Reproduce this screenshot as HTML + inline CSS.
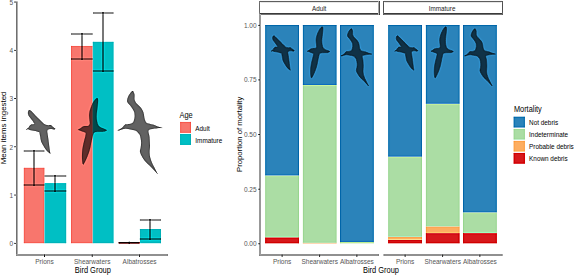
<!DOCTYPE html>
<html><head><meta charset="utf-8"><style>
html,body{margin:0;padding:0;background:#fff;width:575px;height:275px;overflow:hidden}
svg{display:block;font-family:"Liberation Sans", sans-serif}
</style></head><body>
<svg xmlns="http://www.w3.org/2000/svg" width="575" height="275" viewBox="0 0 575 275">
<defs><filter id="bl" color-interpolation-filters="sRGB" x="-2%" y="-2%" width="104%" height="104%"><feConvolveMatrix order="5" kernelMatrix="-0.00048 -0.00501 -0.01095 -0.00501 -0.00048 -0.00501 -0.05222 -0.11405 -0.05222 -0.00501 -0.01095 -0.11405 1.75088 -0.11405 -0.01095 -0.00501 -0.05222 -0.11405 -0.05222 -0.00501 -0.00048 -0.00501 -0.01095 -0.00501 -0.00048" divisor="1" edgeMode="duplicate" preserveAlpha="false"/></filter></defs>
<rect width="575" height="275" fill="#fff"/>
<g filter="url(#bl)">
<rect x="-5" y="-5" width="585" height="285" fill="#fff"/>
<rect x="23.70" y="167.69" width="20.80" height="75.61" fill="#F8766D"/>
<rect x="44.50" y="183.18" width="21.80" height="60.12" fill="#00BFC4"/>
<rect x="70.90" y="45.81" width="21.80" height="197.49" fill="#F8766D"/>
<rect x="92.70" y="41.71" width="20.90" height="201.59" fill="#00BFC4"/>
<rect x="118.70" y="242.34" width="21.10" height="0.96" fill="#F8766D"/>
<rect x="139.80" y="228.92" width="21.20" height="14.38" fill="#00BFC4"/>
<path d="M29.10,110.10 C29.52,109.93 30.00,110.18 30.60,110.60 C31.20,111.02 31.93,111.83 32.70,112.60 C33.47,113.37 34.37,114.35 35.20,115.20 C36.03,116.05 36.93,116.95 37.70,117.70 C38.47,118.45 39.12,119.02 39.80,119.70 C40.48,120.38 41.12,121.12 41.80,121.80 C42.48,122.48 43.22,123.30 43.90,123.80 C44.58,124.30 45.15,124.55 45.90,124.80 C46.65,125.05 47.60,125.25 48.40,125.30 C49.20,125.35 50.02,124.92 50.70,125.10 C51.38,125.28 51.87,125.93 52.50,126.40 C53.13,126.87 54.02,127.48 54.50,127.90 C54.98,128.32 55.40,128.90 55.40,128.90 C55.40,128.90 54.65,129.57 54.00,129.60 C53.35,129.63 52.43,129.10 51.50,129.10 C50.57,129.10 49.10,129.25 48.40,129.60 C47.70,129.95 47.40,130.30 47.30,131.20 C47.20,132.10 47.57,133.30 47.80,135.00 C48.03,136.70 48.40,139.13 48.70,141.40 C49.00,143.67 49.32,146.53 49.60,148.60 C49.88,150.67 50.40,153.80 50.40,153.80 C50.40,153.80 49.95,153.55 49.30,153.00 C48.65,152.45 47.47,151.68 46.50,150.50 C45.53,149.32 44.40,147.42 43.50,145.90 C42.60,144.38 41.65,142.92 41.10,141.40 C40.55,139.88 40.50,138.30 40.20,136.80 C39.90,135.30 39.62,133.20 39.30,132.40 C38.98,131.60 38.98,132.25 38.30,132.00 C37.62,131.75 36.23,131.17 35.20,130.90 C34.17,130.63 33.03,130.57 32.10,130.40 C31.17,130.23 30.27,130.08 29.60,129.90 C28.93,129.72 28.70,129.35 28.10,129.30 C27.50,129.25 26.00,129.60 26.00,129.60 C26.00,129.60 26.87,128.97 27.30,128.60 C27.73,128.23 28.30,127.77 28.60,127.40 C28.90,127.03 28.85,126.75 29.10,126.40 C29.35,126.05 29.68,125.65 30.10,125.30 C30.52,124.95 30.92,124.50 31.60,124.30 C32.28,124.10 33.85,124.35 34.20,124.10 C34.55,123.85 34.05,123.43 33.70,122.80 C33.35,122.17 32.70,121.15 32.10,120.30 C31.50,119.45 30.68,118.47 30.10,117.70 C29.52,116.93 28.97,116.38 28.60,115.70 C28.23,115.02 27.98,114.28 27.90,113.60 C27.82,112.92 27.90,112.18 28.10,111.60 C28.30,111.02 28.68,110.27 29.10,110.10Z" fill="#000" stroke="#000" stroke-width="0.30" stroke-linejoin="round" opacity="0.61"/>
<path d="M97.50,98.20 C97.92,98.45 98.05,99.32 98.10,100.40 C98.15,101.48 97.97,103.02 97.80,104.70 C97.63,106.38 97.30,108.57 97.10,110.50 C96.90,112.43 96.60,114.48 96.60,116.30 C96.60,118.12 96.78,119.87 97.10,121.40 C97.42,122.93 97.78,124.43 98.50,125.50 C99.22,126.57 100.40,127.23 101.40,127.80 C102.40,128.37 103.58,128.50 104.50,128.90 C105.42,129.30 106.90,130.20 106.90,130.20 C106.90,130.20 105.33,131.35 104.30,131.60 C103.27,131.85 101.78,131.67 100.70,131.70 C99.62,131.73 98.83,131.68 97.80,131.80 C96.77,131.92 95.27,131.97 94.50,132.40 C93.73,132.83 93.67,133.02 93.20,134.40 C92.73,135.78 92.22,138.35 91.70,140.70 C91.18,143.05 90.75,146.02 90.10,148.50 C89.45,150.98 88.58,153.52 87.80,155.60 C87.02,157.68 86.12,159.53 85.40,161.00 C84.68,162.47 83.50,164.40 83.50,164.40 C83.50,164.40 82.85,164.48 82.60,163.40 C82.35,162.32 82.05,160.12 82.00,157.90 C81.95,155.68 82.00,152.72 82.30,150.10 C82.60,147.48 83.28,144.55 83.80,142.20 C84.32,139.85 85.12,137.57 85.40,136.00 C85.68,134.43 86.02,133.57 85.50,132.80 C84.98,132.03 83.25,131.80 82.30,131.40 C81.35,131.00 80.55,130.67 79.80,130.40 C79.05,130.13 77.80,129.80 77.80,129.80 C77.80,129.80 79.62,128.72 80.40,128.20 C81.18,127.68 81.78,127.05 82.50,126.70 C83.22,126.35 83.72,126.25 84.70,126.10 C85.68,125.95 87.55,126.22 88.40,125.80 C89.25,125.38 89.63,124.68 89.80,123.60 C89.97,122.52 89.52,120.75 89.40,119.30 C89.28,117.85 89.03,116.37 89.10,114.90 C89.17,113.43 89.43,111.95 89.80,110.50 C90.17,109.05 90.70,107.65 91.30,106.20 C91.90,104.75 92.68,103.02 93.40,101.80 C94.12,100.58 94.92,99.50 95.60,98.90 C96.28,98.30 97.08,97.95 97.50,98.20Z" fill="#000" stroke="#000" stroke-width="0.30" stroke-linejoin="round" opacity="0.61"/>
<path d="M133.20,91.20 C133.20,91.20 134.25,92.93 134.50,94.40 C134.75,95.87 134.25,98.38 134.70,100.00 C135.15,101.62 136.27,102.92 137.20,104.10 C138.13,105.28 139.37,106.00 140.30,107.10 C141.23,108.20 142.20,109.50 142.80,110.70 C143.40,111.90 143.63,113.12 143.90,114.30 C144.17,115.48 144.15,116.70 144.40,117.80 C144.65,118.90 144.98,120.05 145.40,120.90 C145.82,121.75 146.05,122.40 146.90,122.90 C147.75,123.40 149.48,123.62 150.50,123.90 C151.52,124.18 151.88,124.22 153.00,124.60 C154.12,124.98 155.65,125.67 157.20,126.20 C158.75,126.73 162.30,127.80 162.30,127.80 C162.30,127.80 156.08,128.33 153.80,128.80 C151.52,129.27 149.32,129.28 148.60,130.60 C147.88,131.92 149.27,134.22 149.50,136.70 C149.73,139.18 149.98,142.88 150.00,145.50 C150.02,148.12 149.55,150.37 149.60,152.40 C149.65,154.43 149.88,155.95 150.30,157.70 C150.72,159.45 151.37,161.17 152.10,162.90 C152.83,164.63 153.80,166.28 154.70,168.10 C155.60,169.92 157.50,173.80 157.50,173.80 C157.50,173.80 155.13,171.28 153.80,169.90 C152.47,168.52 150.95,166.95 149.50,165.50 C148.05,164.05 146.42,162.80 145.10,161.20 C143.78,159.60 142.47,157.50 141.60,155.90 C140.73,154.30 140.05,153.05 139.90,151.60 C139.75,150.15 140.50,148.80 140.70,147.20 C140.90,145.60 141.23,143.95 141.10,142.00 C140.97,140.05 140.38,136.98 139.90,135.50 C139.42,134.02 138.70,133.78 138.20,133.10 C137.70,132.42 137.43,131.85 136.90,131.40 C136.37,130.95 136.08,130.72 135.00,130.40 C133.92,130.08 131.93,129.77 130.40,129.50 C128.87,129.23 127.22,128.80 125.80,128.80 C124.38,128.80 123.00,129.23 121.90,129.50 C120.80,129.77 119.92,130.27 119.20,130.40 C118.48,130.53 117.60,130.30 117.60,130.30 C117.60,130.30 119.68,129.32 120.50,128.80 C121.32,128.28 121.83,127.85 122.50,127.20 C123.17,126.55 123.95,125.40 124.50,124.90 C125.05,124.40 125.03,124.37 125.80,124.20 C126.57,124.03 128.12,124.07 129.10,123.90 C130.08,123.73 131.00,123.53 131.70,123.20 C132.40,122.87 132.90,122.52 133.30,121.90 C133.70,121.28 133.88,120.32 134.10,119.50 C134.32,118.68 134.52,117.75 134.60,117.00 C134.68,116.25 134.67,115.80 134.60,115.00 C134.53,114.20 134.52,113.17 134.20,112.20 C133.88,111.23 133.38,110.30 132.70,109.20 C132.02,108.10 130.95,106.72 130.10,105.60 C129.25,104.48 128.10,103.38 127.60,102.50 C127.10,101.62 126.97,101.38 127.10,100.30 C127.23,99.22 127.65,97.45 128.40,96.00 C129.15,94.55 130.80,92.40 131.60,91.60 C132.40,90.80 133.20,91.20 133.20,91.20Z" fill="#000" stroke="#000" stroke-width="0.30" stroke-linejoin="round" opacity="0.61"/>
<rect x="23.70" y="150" width="20.80" height="2" fill="#000" fill-opacity="0.36"/>
<rect x="23.70" y="184" width="20.80" height="2" fill="#000" fill-opacity="0.36"/>
<rect x="33" y="150" width="2" height="36" fill="#000" fill-opacity="0.42"/>
<rect x="44.50" y="175" width="21.80" height="2" fill="#000" fill-opacity="0.36"/>
<rect x="44.50" y="190" width="21.80" height="2" fill="#000" fill-opacity="0.36"/>
<rect x="54" y="175" width="2" height="17" fill="#000" fill-opacity="0.42"/>
<rect x="70.90" y="33" width="21.80" height="2" fill="#000" fill-opacity="0.36"/>
<rect x="70.90" y="58" width="21.80" height="2" fill="#000" fill-opacity="0.36"/>
<rect x="81" y="33" width="2" height="27" fill="#000" fill-opacity="0.42"/>
<rect x="92.90" y="12" width="20.70" height="2" fill="#000" fill-opacity="0.36"/>
<rect x="92.90" y="70" width="20.70" height="2" fill="#000" fill-opacity="0.36"/>
<rect x="102" y="12" width="2" height="60" fill="#000" fill-opacity="0.42"/>
<rect x="139.80" y="219" width="21.20" height="2" fill="#000" fill-opacity="0.36"/>
<rect x="139.80" y="238" width="21.20" height="2" fill="#000" fill-opacity="0.36"/>
<rect x="149" y="219" width="2" height="21" fill="#000" fill-opacity="0.42"/>
<rect x="118.6" y="241.9" width="21" height="1.7" fill="#4a0606"/><rect x="128.7" y="241.6" width="0.9" height="2.2" fill="#111"/>
<rect x="16" y="1.4" width="1" height="253.6" fill="#949494"/>
<rect x="17" y="1.4" width="1" height="253.6" fill="#b8b8b8"/>
<rect x="16" y="254" width="152" height="1" fill="#a8a8a8"/>
<rect x="16" y="255" width="152" height="1" fill="#a8a8a8"/>
<path d="M14.2,243.30H16" stroke="#4a4a4a" stroke-width="0.9"/>
<path d="M14.2,195.05H16" stroke="#4a4a4a" stroke-width="0.9"/>
<path d="M14.2,146.80H16" stroke="#4a4a4a" stroke-width="0.9"/>
<path d="M14.2,98.55H16" stroke="#4a4a4a" stroke-width="0.9"/>
<path d="M14.2,50.30H16" stroke="#4a4a4a" stroke-width="0.9"/>
<path d="M14.2,2.05H16" stroke="#4a4a4a" stroke-width="0.9"/>
<path d="M44.50,254.5V257" stroke="#4a4a4a" stroke-width="0.9"/>
<path d="M92.20,254.5V257" stroke="#4a4a4a" stroke-width="0.9"/>
<path d="M139.60,254.5V257" stroke="#4a4a4a" stroke-width="0.9"/>
<rect x="180.1" y="121.8" width="10.9" height="11.1" fill="#F8766D"/>
<rect x="180.1" y="133.8" width="10.9" height="11.1" fill="#00BFC4"/>
<rect x="265.15" y="237.30" width="33.90" height="6.10" fill="#D7191C"/>
<rect x="265.15" y="237.30" width="33.90" height="0.00" fill="#FDAE61"/>
<rect x="265.15" y="175.49" width="33.90" height="61.81" fill="#ABDDA4"/>
<rect x="265.15" y="24.90" width="33.90" height="150.59" fill="#2B83BA"/>
<rect x="302.75" y="242.74" width="33.90" height="0.66" fill="#FDAE61"/>
<rect x="302.75" y="84.99" width="33.90" height="157.76" fill="#ABDDA4"/>
<rect x="302.75" y="24.90" width="33.90" height="60.09" fill="#2B83BA"/>
<rect x="339.95" y="241.98" width="33.90" height="1.42" fill="#ABDDA4"/>
<rect x="339.95" y="24.90" width="33.90" height="217.08" fill="#2B83BA"/>
<rect x="388.15" y="239.79" width="33.90" height="3.61" fill="#D7191C"/>
<rect x="388.15" y="236.80" width="33.90" height="2.99" fill="#FDAE61"/>
<rect x="388.15" y="156.70" width="33.90" height="80.10" fill="#ABDDA4"/>
<rect x="388.15" y="24.90" width="33.90" height="131.80" fill="#2B83BA"/>
<rect x="425.75" y="233.11" width="33.90" height="10.29" fill="#D7191C"/>
<rect x="425.75" y="226.40" width="33.90" height="6.71" fill="#FDAE61"/>
<rect x="425.75" y="103.80" width="33.90" height="122.60" fill="#ABDDA4"/>
<rect x="425.75" y="24.90" width="33.90" height="78.90" fill="#2B83BA"/>
<rect x="462.95" y="233.11" width="33.90" height="10.29" fill="#D7191C"/>
<rect x="462.95" y="212.39" width="33.90" height="20.71" fill="#ABDDA4"/>
<rect x="462.95" y="24.90" width="33.90" height="187.49" fill="#2B83BA"/>
<path d="M29.10,110.10 C29.52,109.93 30.00,110.18 30.60,110.60 C31.20,111.02 31.93,111.83 32.70,112.60 C33.47,113.37 34.37,114.35 35.20,115.20 C36.03,116.05 36.93,116.95 37.70,117.70 C38.47,118.45 39.12,119.02 39.80,119.70 C40.48,120.38 41.12,121.12 41.80,121.80 C42.48,122.48 43.22,123.30 43.90,123.80 C44.58,124.30 45.15,124.55 45.90,124.80 C46.65,125.05 47.60,125.25 48.40,125.30 C49.20,125.35 50.02,124.92 50.70,125.10 C51.38,125.28 51.87,125.93 52.50,126.40 C53.13,126.87 54.02,127.48 54.50,127.90 C54.98,128.32 55.40,128.90 55.40,128.90 C55.40,128.90 54.65,129.57 54.00,129.60 C53.35,129.63 52.43,129.10 51.50,129.10 C50.57,129.10 49.10,129.25 48.40,129.60 C47.70,129.95 47.40,130.30 47.30,131.20 C47.20,132.10 47.57,133.30 47.80,135.00 C48.03,136.70 48.40,139.13 48.70,141.40 C49.00,143.67 49.32,146.53 49.60,148.60 C49.88,150.67 50.40,153.80 50.40,153.80 C50.40,153.80 49.95,153.55 49.30,153.00 C48.65,152.45 47.47,151.68 46.50,150.50 C45.53,149.32 44.40,147.42 43.50,145.90 C42.60,144.38 41.65,142.92 41.10,141.40 C40.55,139.88 40.50,138.30 40.20,136.80 C39.90,135.30 39.62,133.20 39.30,132.40 C38.98,131.60 38.98,132.25 38.30,132.00 C37.62,131.75 36.23,131.17 35.20,130.90 C34.17,130.63 33.03,130.57 32.10,130.40 C31.17,130.23 30.27,130.08 29.60,129.90 C28.93,129.72 28.70,129.35 28.10,129.30 C27.50,129.25 26.00,129.60 26.00,129.60 C26.00,129.60 26.87,128.97 27.30,128.60 C27.73,128.23 28.30,127.77 28.60,127.40 C28.90,127.03 28.85,126.75 29.10,126.40 C29.35,126.05 29.68,125.65 30.10,125.30 C30.52,124.95 30.92,124.50 31.60,124.30 C32.28,124.10 33.85,124.35 34.20,124.10 C34.55,123.85 34.05,123.43 33.70,122.80 C33.35,122.17 32.70,121.15 32.10,120.30 C31.50,119.45 30.68,118.47 30.10,117.70 C29.52,116.93 28.97,116.38 28.60,115.70 C28.23,115.02 27.98,114.28 27.90,113.60 C27.82,112.92 27.90,112.18 28.10,111.60 C28.30,111.02 28.68,110.27 29.10,110.10Z" fill="#000" stroke="#000" stroke-width="0.762" stroke-linejoin="round" opacity="0.61" transform="translate(250.64,-50.80) scale(0.787)"/>
<path d="M97.50,98.20 C97.92,98.45 98.05,99.32 98.10,100.40 C98.15,101.48 97.97,103.02 97.80,104.70 C97.63,106.38 97.30,108.57 97.10,110.50 C96.90,112.43 96.60,114.48 96.60,116.30 C96.60,118.12 96.78,119.87 97.10,121.40 C97.42,122.93 97.78,124.43 98.50,125.50 C99.22,126.57 100.40,127.23 101.40,127.80 C102.40,128.37 103.58,128.50 104.50,128.90 C105.42,129.30 106.90,130.20 106.90,130.20 C106.90,130.20 105.33,131.35 104.30,131.60 C103.27,131.85 101.78,131.67 100.70,131.70 C99.62,131.73 98.83,131.68 97.80,131.80 C96.77,131.92 95.27,131.97 94.50,132.40 C93.73,132.83 93.67,133.02 93.20,134.40 C92.73,135.78 92.22,138.35 91.70,140.70 C91.18,143.05 90.75,146.02 90.10,148.50 C89.45,150.98 88.58,153.52 87.80,155.60 C87.02,157.68 86.12,159.53 85.40,161.00 C84.68,162.47 83.50,164.40 83.50,164.40 C83.50,164.40 82.85,164.48 82.60,163.40 C82.35,162.32 82.05,160.12 82.00,157.90 C81.95,155.68 82.00,152.72 82.30,150.10 C82.60,147.48 83.28,144.55 83.80,142.20 C84.32,139.85 85.12,137.57 85.40,136.00 C85.68,134.43 86.02,133.57 85.50,132.80 C84.98,132.03 83.25,131.80 82.30,131.40 C81.35,131.00 80.55,130.67 79.80,130.40 C79.05,130.13 77.80,129.80 77.80,129.80 C77.80,129.80 79.62,128.72 80.40,128.20 C81.18,127.68 81.78,127.05 82.50,126.70 C83.22,126.35 83.72,126.25 84.70,126.10 C85.68,125.95 87.55,126.22 88.40,125.80 C89.25,125.38 89.63,124.68 89.80,123.60 C89.97,122.52 89.52,120.75 89.40,119.30 C89.28,117.85 89.03,116.37 89.10,114.90 C89.17,113.43 89.43,111.95 89.80,110.50 C90.17,109.05 90.70,107.65 91.30,106.20 C91.90,104.75 92.68,103.02 93.40,101.80 C94.12,100.58 94.92,99.50 95.60,98.90 C96.28,98.30 97.08,97.95 97.50,98.20Z" fill="#000" stroke="#000" stroke-width="0.779" stroke-linejoin="round" opacity="0.61" transform="translate(247.44,-48.70) scale(0.770)"/>
<path d="M133.20,91.20 C133.20,91.20 134.25,92.93 134.50,94.40 C134.75,95.87 134.25,98.38 134.70,100.00 C135.15,101.62 136.27,102.92 137.20,104.10 C138.13,105.28 139.37,106.00 140.30,107.10 C141.23,108.20 142.20,109.50 142.80,110.70 C143.40,111.90 143.63,113.12 143.90,114.30 C144.17,115.48 144.15,116.70 144.40,117.80 C144.65,118.90 144.98,120.05 145.40,120.90 C145.82,121.75 146.05,122.40 146.90,122.90 C147.75,123.40 149.48,123.62 150.50,123.90 C151.52,124.18 151.88,124.22 153.00,124.60 C154.12,124.98 155.65,125.67 157.20,126.20 C158.75,126.73 162.30,127.80 162.30,127.80 C162.30,127.80 156.08,128.33 153.80,128.80 C151.52,129.27 149.32,129.28 148.60,130.60 C147.88,131.92 149.27,134.22 149.50,136.70 C149.73,139.18 149.98,142.88 150.00,145.50 C150.02,148.12 149.55,150.37 149.60,152.40 C149.65,154.43 149.88,155.95 150.30,157.70 C150.72,159.45 151.37,161.17 152.10,162.90 C152.83,164.63 153.80,166.28 154.70,168.10 C155.60,169.92 157.50,173.80 157.50,173.80 C157.50,173.80 155.13,171.28 153.80,169.90 C152.47,168.52 150.95,166.95 149.50,165.50 C148.05,164.05 146.42,162.80 145.10,161.20 C143.78,159.60 142.47,157.50 141.60,155.90 C140.73,154.30 140.05,153.05 139.90,151.60 C139.75,150.15 140.50,148.80 140.70,147.20 C140.90,145.60 141.23,143.95 141.10,142.00 C140.97,140.05 140.38,136.98 139.90,135.50 C139.42,134.02 138.70,133.78 138.20,133.10 C137.70,132.42 137.43,131.85 136.90,131.40 C136.37,130.95 136.08,130.72 135.00,130.40 C133.92,130.08 131.93,129.77 130.40,129.50 C128.87,129.23 127.22,128.80 125.80,128.80 C124.38,128.80 123.00,129.23 121.90,129.50 C120.80,129.77 119.92,130.27 119.20,130.40 C118.48,130.53 117.60,130.30 117.60,130.30 C117.60,130.30 119.68,129.32 120.50,128.80 C121.32,128.28 121.83,127.85 122.50,127.20 C123.17,126.55 123.95,125.40 124.50,124.90 C125.05,124.40 125.03,124.37 125.80,124.20 C126.57,124.03 128.12,124.07 129.10,123.90 C130.08,123.73 131.00,123.53 131.70,123.20 C132.40,122.87 132.90,122.52 133.30,121.90 C133.70,121.28 133.88,120.32 134.10,119.50 C134.32,118.68 134.52,117.75 134.60,117.00 C134.68,116.25 134.67,115.80 134.60,115.00 C134.53,114.20 134.52,113.17 134.20,112.20 C133.88,111.23 133.38,110.30 132.70,109.20 C132.02,108.10 130.95,106.72 130.10,105.60 C129.25,104.48 128.10,103.38 127.60,102.50 C127.10,101.62 126.97,101.38 127.10,100.30 C127.23,99.22 127.65,97.45 128.40,96.00 C129.15,94.55 130.80,92.40 131.60,91.60 C132.40,90.80 133.20,91.20 133.20,91.20Z" fill="#000" stroke="#000" stroke-width="0.870" stroke-linejoin="round" opacity="0.61" transform="translate(259.80,-34.10) scale(0.690)"/>
<path d="M29.10,110.10 C29.52,109.93 30.00,110.18 30.60,110.60 C31.20,111.02 31.93,111.83 32.70,112.60 C33.47,113.37 34.37,114.35 35.20,115.20 C36.03,116.05 36.93,116.95 37.70,117.70 C38.47,118.45 39.12,119.02 39.80,119.70 C40.48,120.38 41.12,121.12 41.80,121.80 C42.48,122.48 43.22,123.30 43.90,123.80 C44.58,124.30 45.15,124.55 45.90,124.80 C46.65,125.05 47.60,125.25 48.40,125.30 C49.20,125.35 50.02,124.92 50.70,125.10 C51.38,125.28 51.87,125.93 52.50,126.40 C53.13,126.87 54.02,127.48 54.50,127.90 C54.98,128.32 55.40,128.90 55.40,128.90 C55.40,128.90 54.65,129.57 54.00,129.60 C53.35,129.63 52.43,129.10 51.50,129.10 C50.57,129.10 49.10,129.25 48.40,129.60 C47.70,129.95 47.40,130.30 47.30,131.20 C47.20,132.10 47.57,133.30 47.80,135.00 C48.03,136.70 48.40,139.13 48.70,141.40 C49.00,143.67 49.32,146.53 49.60,148.60 C49.88,150.67 50.40,153.80 50.40,153.80 C50.40,153.80 49.95,153.55 49.30,153.00 C48.65,152.45 47.47,151.68 46.50,150.50 C45.53,149.32 44.40,147.42 43.50,145.90 C42.60,144.38 41.65,142.92 41.10,141.40 C40.55,139.88 40.50,138.30 40.20,136.80 C39.90,135.30 39.62,133.20 39.30,132.40 C38.98,131.60 38.98,132.25 38.30,132.00 C37.62,131.75 36.23,131.17 35.20,130.90 C34.17,130.63 33.03,130.57 32.10,130.40 C31.17,130.23 30.27,130.08 29.60,129.90 C28.93,129.72 28.70,129.35 28.10,129.30 C27.50,129.25 26.00,129.60 26.00,129.60 C26.00,129.60 26.87,128.97 27.30,128.60 C27.73,128.23 28.30,127.77 28.60,127.40 C28.90,127.03 28.85,126.75 29.10,126.40 C29.35,126.05 29.68,125.65 30.10,125.30 C30.52,124.95 30.92,124.50 31.60,124.30 C32.28,124.10 33.85,124.35 34.20,124.10 C34.55,123.85 34.05,123.43 33.70,122.80 C33.35,122.17 32.70,121.15 32.10,120.30 C31.50,119.45 30.68,118.47 30.10,117.70 C29.52,116.93 28.97,116.38 28.60,115.70 C28.23,115.02 27.98,114.28 27.90,113.60 C27.82,112.92 27.90,112.18 28.10,111.60 C28.30,111.02 28.68,110.27 29.10,110.10Z" fill="#000" stroke="#000" stroke-width="0.762" stroke-linejoin="round" opacity="0.61" transform="translate(374.24,-50.80) scale(0.787)"/>
<path d="M97.50,98.20 C97.92,98.45 98.05,99.32 98.10,100.40 C98.15,101.48 97.97,103.02 97.80,104.70 C97.63,106.38 97.30,108.57 97.10,110.50 C96.90,112.43 96.60,114.48 96.60,116.30 C96.60,118.12 96.78,119.87 97.10,121.40 C97.42,122.93 97.78,124.43 98.50,125.50 C99.22,126.57 100.40,127.23 101.40,127.80 C102.40,128.37 103.58,128.50 104.50,128.90 C105.42,129.30 106.90,130.20 106.90,130.20 C106.90,130.20 105.33,131.35 104.30,131.60 C103.27,131.85 101.78,131.67 100.70,131.70 C99.62,131.73 98.83,131.68 97.80,131.80 C96.77,131.92 95.27,131.97 94.50,132.40 C93.73,132.83 93.67,133.02 93.20,134.40 C92.73,135.78 92.22,138.35 91.70,140.70 C91.18,143.05 90.75,146.02 90.10,148.50 C89.45,150.98 88.58,153.52 87.80,155.60 C87.02,157.68 86.12,159.53 85.40,161.00 C84.68,162.47 83.50,164.40 83.50,164.40 C83.50,164.40 82.85,164.48 82.60,163.40 C82.35,162.32 82.05,160.12 82.00,157.90 C81.95,155.68 82.00,152.72 82.30,150.10 C82.60,147.48 83.28,144.55 83.80,142.20 C84.32,139.85 85.12,137.57 85.40,136.00 C85.68,134.43 86.02,133.57 85.50,132.80 C84.98,132.03 83.25,131.80 82.30,131.40 C81.35,131.00 80.55,130.67 79.80,130.40 C79.05,130.13 77.80,129.80 77.80,129.80 C77.80,129.80 79.62,128.72 80.40,128.20 C81.18,127.68 81.78,127.05 82.50,126.70 C83.22,126.35 83.72,126.25 84.70,126.10 C85.68,125.95 87.55,126.22 88.40,125.80 C89.25,125.38 89.63,124.68 89.80,123.60 C89.97,122.52 89.52,120.75 89.40,119.30 C89.28,117.85 89.03,116.37 89.10,114.90 C89.17,113.43 89.43,111.95 89.80,110.50 C90.17,109.05 90.70,107.65 91.30,106.20 C91.90,104.75 92.68,103.02 93.40,101.80 C94.12,100.58 94.92,99.50 95.60,98.90 C96.28,98.30 97.08,97.95 97.50,98.20Z" fill="#000" stroke="#000" stroke-width="0.779" stroke-linejoin="round" opacity="0.61" transform="translate(371.04,-48.70) scale(0.770)"/>
<path d="M133.20,91.20 C133.20,91.20 134.25,92.93 134.50,94.40 C134.75,95.87 134.25,98.38 134.70,100.00 C135.15,101.62 136.27,102.92 137.20,104.10 C138.13,105.28 139.37,106.00 140.30,107.10 C141.23,108.20 142.20,109.50 142.80,110.70 C143.40,111.90 143.63,113.12 143.90,114.30 C144.17,115.48 144.15,116.70 144.40,117.80 C144.65,118.90 144.98,120.05 145.40,120.90 C145.82,121.75 146.05,122.40 146.90,122.90 C147.75,123.40 149.48,123.62 150.50,123.90 C151.52,124.18 151.88,124.22 153.00,124.60 C154.12,124.98 155.65,125.67 157.20,126.20 C158.75,126.73 162.30,127.80 162.30,127.80 C162.30,127.80 156.08,128.33 153.80,128.80 C151.52,129.27 149.32,129.28 148.60,130.60 C147.88,131.92 149.27,134.22 149.50,136.70 C149.73,139.18 149.98,142.88 150.00,145.50 C150.02,148.12 149.55,150.37 149.60,152.40 C149.65,154.43 149.88,155.95 150.30,157.70 C150.72,159.45 151.37,161.17 152.10,162.90 C152.83,164.63 153.80,166.28 154.70,168.10 C155.60,169.92 157.50,173.80 157.50,173.80 C157.50,173.80 155.13,171.28 153.80,169.90 C152.47,168.52 150.95,166.95 149.50,165.50 C148.05,164.05 146.42,162.80 145.10,161.20 C143.78,159.60 142.47,157.50 141.60,155.90 C140.73,154.30 140.05,153.05 139.90,151.60 C139.75,150.15 140.50,148.80 140.70,147.20 C140.90,145.60 141.23,143.95 141.10,142.00 C140.97,140.05 140.38,136.98 139.90,135.50 C139.42,134.02 138.70,133.78 138.20,133.10 C137.70,132.42 137.43,131.85 136.90,131.40 C136.37,130.95 136.08,130.72 135.00,130.40 C133.92,130.08 131.93,129.77 130.40,129.50 C128.87,129.23 127.22,128.80 125.80,128.80 C124.38,128.80 123.00,129.23 121.90,129.50 C120.80,129.77 119.92,130.27 119.20,130.40 C118.48,130.53 117.60,130.30 117.60,130.30 C117.60,130.30 119.68,129.32 120.50,128.80 C121.32,128.28 121.83,127.85 122.50,127.20 C123.17,126.55 123.95,125.40 124.50,124.90 C125.05,124.40 125.03,124.37 125.80,124.20 C126.57,124.03 128.12,124.07 129.10,123.90 C130.08,123.73 131.00,123.53 131.70,123.20 C132.40,122.87 132.90,122.52 133.30,121.90 C133.70,121.28 133.88,120.32 134.10,119.50 C134.32,118.68 134.52,117.75 134.60,117.00 C134.68,116.25 134.67,115.80 134.60,115.00 C134.53,114.20 134.52,113.17 134.20,112.20 C133.88,111.23 133.38,110.30 132.70,109.20 C132.02,108.10 130.95,106.72 130.10,105.60 C129.25,104.48 128.10,103.38 127.60,102.50 C127.10,101.62 126.97,101.38 127.10,100.30 C127.23,99.22 127.65,97.45 128.40,96.00 C129.15,94.55 130.80,92.40 131.60,91.60 C132.40,90.80 133.20,91.20 133.20,91.20Z" fill="#000" stroke="#000" stroke-width="0.870" stroke-linejoin="round" opacity="0.61" transform="translate(383.40,-34.10) scale(0.690)"/>
<rect x="260" y="0" width="119" height="1" fill="#e8e8e8"/>
<rect x="260" y="1" width="119" height="1" fill="#8a8a8a"/>
<rect x="260" y="2" width="119" height="1" fill="#dcdcdc"/>
<rect x="260" y="13" width="119" height="1" fill="#6a6a6a"/>
<rect x="260" y="14" width="119" height="1" fill="#8c8c8c"/>
<rect x="259" y="1" width="1" height="14" fill="#9a9a9a"/>
<rect x="378" y="1" width="1" height="14" fill="#b0b0b0"/>
<rect x="379" y="1" width="1" height="14" fill="#7a7a7a"/>
<rect x="384" y="0" width="118" height="1" fill="#e8e8e8"/>
<rect x="384" y="1" width="118" height="1" fill="#8a8a8a"/>
<rect x="384" y="2" width="118" height="1" fill="#dcdcdc"/>
<rect x="384" y="13" width="118" height="1" fill="#6a6a6a"/>
<rect x="384" y="14" width="118" height="1" fill="#8c8c8c"/>
<rect x="383" y="1" width="1" height="14" fill="#8a8a8a"/>
<rect x="502" y="1" width="1" height="14" fill="#8a8a8a"/>
<rect x="259" y="14" width="1" height="241" fill="#aeaeae"/>
<rect x="260" y="14" width="1" height="241" fill="#aeaeae"/>
<rect x="259" y="254" width="120" height="1" fill="#a8a8a8"/>
<rect x="259" y="255" width="120" height="1" fill="#a8a8a8"/>
<rect x="383.4" y="254" width="119.3" height="1" fill="#a8a8a8"/>
<rect x="383.4" y="255" width="119.3" height="1" fill="#a8a8a8"/>
<path d="M258.2,243.80H260" stroke="#4a4a4a" stroke-width="0.9"/>
<path d="M258.2,189.18H260" stroke="#4a4a4a" stroke-width="0.9"/>
<path d="M258.2,134.55H260" stroke="#4a4a4a" stroke-width="0.9"/>
<path d="M258.2,79.93H260" stroke="#4a4a4a" stroke-width="0.9"/>
<path d="M258.2,25.30H260" stroke="#4a4a4a" stroke-width="0.9"/>
<path d="M282.10,254.6V257" stroke="#4a4a4a" stroke-width="0.9"/>
<path d="M319.70,254.6V257" stroke="#4a4a4a" stroke-width="0.9"/>
<path d="M356.90,254.6V257" stroke="#4a4a4a" stroke-width="0.9"/>
<path d="M405.10,254.6V257" stroke="#4a4a4a" stroke-width="0.9"/>
<path d="M442.70,254.6V257" stroke="#4a4a4a" stroke-width="0.9"/>
<path d="M479.90,254.6V257" stroke="#4a4a4a" stroke-width="0.9"/>
<rect x="513.5" y="116.60" width="11.4" height="11" fill="#2B83BA"/>
<rect x="513.5" y="128.65" width="11.4" height="11" fill="#ABDDA4"/>
<rect x="513.5" y="140.70" width="11.4" height="11" fill="#FDAE61"/>
<rect x="513.5" y="152.75" width="11.4" height="11" fill="#D7191C"/>
</g>
<text x="13.0" y="246.10" font-size="6.50" fill="#555" text-anchor="end">0</text>
<text x="13.0" y="197.85" font-size="6.50" fill="#555" text-anchor="end">1</text>
<text x="13.0" y="149.60" font-size="6.50" fill="#555" text-anchor="end">2</text>
<text x="13.0" y="101.35" font-size="6.50" fill="#555" text-anchor="end">3</text>
<text x="13.0" y="53.10" font-size="6.50" fill="#555" text-anchor="end">4</text>
<text x="13.0" y="4.85" font-size="6.50" fill="#555" text-anchor="end">5</text>
<text x="44.50" y="264.0" font-size="6.50" fill="#555" text-anchor="middle">Prions</text>
<text x="92.20" y="264.0" font-size="6.50" fill="#555" text-anchor="middle">Shearwaters</text>
<text x="139.60" y="264.0" font-size="6.50" fill="#555" text-anchor="middle">Albatrosses</text>
<text transform="translate(92.80,273.00) scale(0.900,1)" font-size="8.30" fill="#000" text-anchor="middle">Bird Group</text>
<text transform="translate(6.10,127.90) rotate(-90)" font-size="7.90" fill="#000" text-anchor="middle">Mean items ingested</text>
<text transform="translate(179.50,117.60) scale(0.900,1)" font-size="8.30" fill="#000">Age</text>
<text transform="translate(195.30,131.30) scale(0.940,1)" font-size="6.80" fill="#000">Adult</text>
<text transform="translate(195.30,143.20) scale(0.940,1)" font-size="6.80" fill="#000">Immature</text>
<text x="319.2" y="11.1" font-size="6.30" fill="#1a1a1a" text-anchor="middle">Adult</text>
<text x="442.1" y="11.1" font-size="6.30" fill="#1a1a1a" text-anchor="middle">Immature</text>
<text x="256.6" y="246.20" font-size="6.50" fill="#555" text-anchor="end">0.00</text>
<text x="256.6" y="191.58" font-size="6.50" fill="#555" text-anchor="end">0.25</text>
<text x="256.6" y="136.95" font-size="6.50" fill="#555" text-anchor="end">0.50</text>
<text x="256.6" y="82.33" font-size="6.50" fill="#555" text-anchor="end">0.75</text>
<text x="256.6" y="27.70" font-size="6.50" fill="#555" text-anchor="end">1.00</text>
<text x="282.10" y="264.0" font-size="6.50" fill="#555" text-anchor="middle">Prions</text>
<text x="319.70" y="264.0" font-size="6.50" fill="#555" text-anchor="middle">Shearwaters</text>
<text x="356.90" y="264.0" font-size="6.50" fill="#555" text-anchor="middle">Albatrosses</text>
<text x="405.10" y="264.0" font-size="6.50" fill="#555" text-anchor="middle">Prions</text>
<text x="442.70" y="264.0" font-size="6.50" fill="#555" text-anchor="middle">Shearwaters</text>
<text x="479.90" y="264.0" font-size="6.50" fill="#555" text-anchor="middle">Albatrosses</text>
<text transform="translate(381.00,273.00) scale(0.900,1)" font-size="8.30" fill="#000" text-anchor="middle">Bird Group</text>
<text transform="translate(242.20,134.30) rotate(-90)" font-size="7.70" fill="#000" text-anchor="middle">Proportion of mortality</text>
<text transform="translate(513.90,111.90) scale(0.890,1)" font-size="8.30" fill="#000">Mortality</text>
<text transform="translate(529.10,124.50) scale(0.940,1)" font-size="6.80" fill="#000">Not debris</text>
<text transform="translate(529.10,136.55) scale(0.940,1)" font-size="6.80" fill="#000">Indeterminate</text>
<text transform="translate(529.10,148.60) scale(0.940,1)" font-size="6.80" fill="#000">Probable debris</text>
<text transform="translate(529.10,160.65) scale(0.940,1)" font-size="6.80" fill="#000">Known debris</text>
</svg>
</body></html>
